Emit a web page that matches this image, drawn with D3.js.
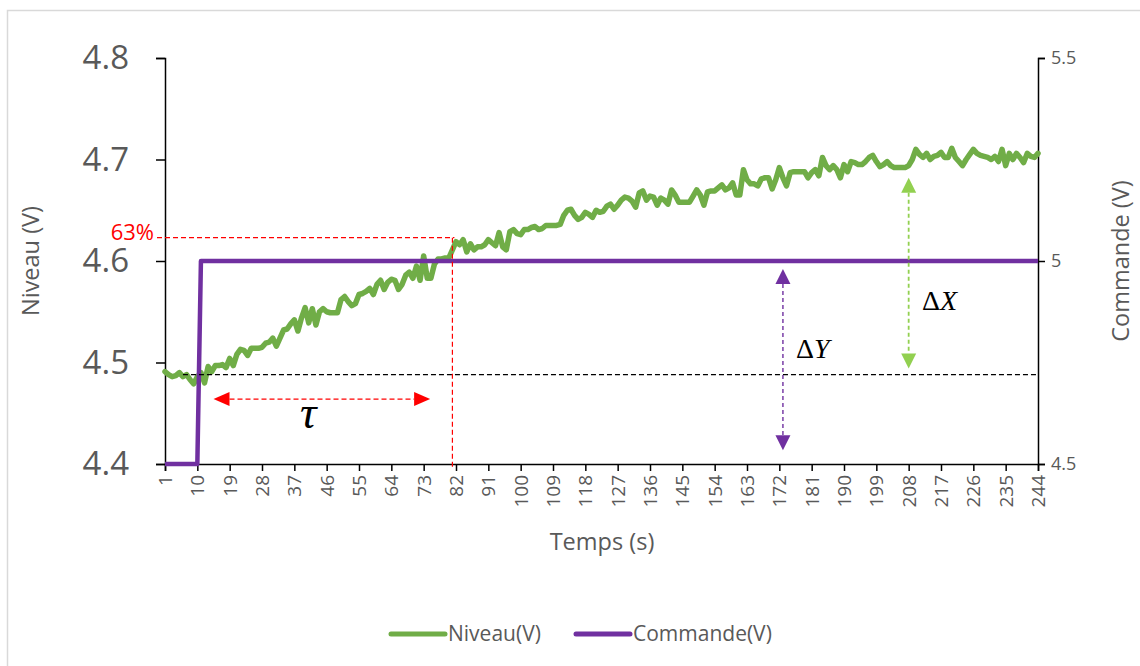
<!DOCTYPE html>
<html>
<head>
<meta charset="utf-8">
<script src="https://cdn.jsdelivr.net/npm/d3@7"></script>
<style>
  html, body { margin: 0; padding: 0; background: #fff; }
  svg { display: block; }
  text { font-family: "Open Sans", "Noto Sans", sans-serif; fill: #595959; }
</style>
</head>
<body>
<svg id="chart" width="1140" height="666"></svg>
<script>
// Time index (s)
const temps = d3.range(1, 245);

// Measured level (V), one value per second
const niveau = [
  4.491, 4.488, 4.486, 4.487, 4.490, 4.486, 4.488, 4.483, 4.479, 4.486,
  4.490, 4.480, 4.496, 4.491, 4.497, 4.497, 4.498, 4.495, 4.504, 4.497,
  4.508, 4.513, 4.512, 4.507, 4.514, 4.514, 4.514, 4.515, 4.519, 4.520,
  4.524, 4.516, 4.524, 4.532, 4.533, 4.538, 4.542, 4.531, 4.544, 4.554,
  4.539, 4.553, 4.537, 4.550, 4.553, 4.550, 4.549, 4.549, 4.549, 4.562,
  4.565, 4.560, 4.556, 4.558, 4.567, 4.568, 4.570, 4.573, 4.567, 4.577,
  4.581, 4.572, 4.579, 4.582, 4.581, 4.572, 4.577, 4.586, 4.589, 4.583,
  4.595, 4.581, 4.605, 4.583, 4.583, 4.597, 4.602, 4.602, 4.603, 4.603,
  4.611, 4.619, 4.616, 4.621, 4.609, 4.617, 4.611, 4.614, 4.614, 4.616,
  4.621, 4.618, 4.615, 4.628, 4.614, 4.611, 4.629, 4.631, 4.627, 4.626,
  4.631, 4.631, 4.633, 4.634, 4.631, 4.632, 4.635, 4.635, 4.635, 4.635,
  4.636, 4.645, 4.650, 4.651, 4.645, 4.641, 4.643, 4.648, 4.646, 4.643,
  4.650, 4.648, 4.649, 4.654, 4.656, 4.651, 4.655, 4.660, 4.663, 4.662,
  4.659, 4.653, 4.667, 4.669, 4.660, 4.664, 4.663, 4.655, 4.662, 4.660,
  4.656, 4.670, 4.665, 4.658, 4.658, 4.658, 4.658, 4.664, 4.670, 4.665,
  4.655, 4.668, 4.669, 4.669, 4.672, 4.675, 4.670, 4.672, 4.677, 4.665,
  4.665, 4.690, 4.680, 4.676, 4.676, 4.674, 4.681, 4.682, 4.682, 4.671,
  4.680, 4.692, 4.682, 4.674, 4.687, 4.688, 4.688, 4.688, 4.688, 4.682,
  4.687, 4.690, 4.684, 4.702, 4.694, 4.690, 4.694, 4.690, 4.682, 4.695,
  4.688, 4.698, 4.697, 4.695, 4.695, 4.698, 4.702, 4.704, 4.698, 4.693,
  4.695, 4.698, 4.694, 4.692, 4.692, 4.692, 4.692, 4.694, 4.700, 4.710,
  4.705, 4.702, 4.706, 4.700, 4.703, 4.704, 4.707, 4.702, 4.702, 4.711,
  4.702, 4.698, 4.694, 4.700, 4.705, 4.710, 4.706, 4.704, 4.703, 4.702,
  4.700, 4.703, 4.698, 4.710, 4.694, 4.706, 4.700, 4.706, 4.702, 4.697,
  4.706, 4.703, 4.702, 4.706
];

// Command step (V): 4.5 V then 5 V from t = 11 s
const commande = temps.map(t => (t <= 10 ? 4.5 : 5));

// Axis ticks
const xTicks = d3.range(1, 245, 9);
const yLeftTicks = [4.4, 4.5, 4.6, 4.7, 4.8];
const yRightTicks = [4.5, 5, 5.5];

// Step-response annotations (data units)
const niveauInitial = 4.488;   // level before the step
const niveau63 = 4.623;        // 63 % of the level change
const t63 = 81;                // time at which 63 % is reached
const tauArrow = { from: 14.5, to: 74.8, level: 4.464 };
const deltaYArrow = { t: 173, top: 4.98, bottom: 4.534 };
const deltaXArrow = { t: 208, top: 4.682, bottom: 4.494 };

const svg = d3.select("#chart");
const W = 1140, H = 666;
const plot = { left: 165, right: 1038, top: 58, bottom: 464 };

// frame
svg.append("rect")
  .attr("x", 7.5).attr("y", 10.5)
  .attr("width", W).attr("height", H)
  .attr("fill", "#fff").attr("stroke", "#d9d9d9").attr("stroke-width", 1.5);

const x = d3.scaleLinear().domain([1, 244]).range([plot.left, plot.right]);
const yL = d3.scaleLinear().domain([4.4, 4.8]).range([plot.bottom, plot.top]);
const yR = d3.scaleLinear().domain([4.5, 5.5]).range([plot.bottom, plot.top]);

// Left axis
const gL = svg.append("g").attr("transform", `translate(${plot.left},0)`)
  .call(d3.axisLeft(yL).tickValues(yLeftTicks).tickFormat(d3.format(".1f")).tickSize(9).tickPadding(27));
gL.selectAll("text").style("font-size", "33px").attr("fill", "#595959");

// Right axis
const gR = svg.append("g").attr("transform", `translate(${plot.right},0)`)
  .call(d3.axisRight(yR).tickValues(yRightTicks).tickFormat(d => d3.format("")(d)).tickSize(7).tickPadding(6));
gR.selectAll("text").style("font-size", "18px").attr("fill", "#595959");

// Bottom axis
const gX = svg.append("g").attr("transform", `translate(0,${plot.bottom})`)
  .call(d3.axisBottom(x).tickValues(xTicks).tickFormat(d3.format("d")).tickSize(7).tickPadding(4));
gX.selectAll("text")
  .style("font-size", "19px").attr("fill", "#595959")
  .attr("text-anchor", "end")
  .attr("transform", "rotate(-90)")
  .attr("x", -11).attr("y", 0).attr("dy", "0.35em");

[gL, gR, gX].forEach(g => {
  g.select(".domain").attr("stroke", "#000").attr("stroke-width", 1.5);
  g.selectAll(".tick line").attr("stroke", "#000").attr("stroke-width", 1.5);
});

// Series
const lineNiveau = d3.line().x((d, i) => x(temps[i])).y(d => yL(d));
const lineCommande = d3.line().x((d, i) => x(temps[i])).y(d => yR(d));

svg.append("path").datum(niveau)
  .attr("d", lineNiveau).attr("fill", "none")
  .attr("stroke", "#70ad47").attr("stroke-width", 5.5)
  .attr("stroke-linejoin", "round").attr("stroke-linecap", "round");

svg.append("path").datum(commande)
  .attr("d", lineCommande).attr("fill", "none")
  .attr("stroke", "#7030a0").attr("stroke-width", 4.5)
  .attr("stroke-linejoin", "round");

// Annotations
const ann = svg.append("g");
const dash = "5,3";

// initial level reference
ann.append("line")
  .attr("x1", x(6)).attr("x2", x(243.5))
  .attr("y1", yL(niveauInitial)).attr("y2", yL(niveauInitial))
  .attr("stroke", "#000").attr("stroke-width", 1.2).attr("stroke-dasharray", dash);

// 63 % level and its time
ann.append("line")
  .attr("x1", x(1) - 8).attr("x2", x(t63) + 2)
  .attr("y1", yL(niveau63)).attr("y2", yL(niveau63))
  .attr("stroke", "#ff0000").attr("stroke-width", 1.2).attr("stroke-dasharray", dash);
ann.append("line")
  .attr("x1", x(t63)).attr("x2", x(t63))
  .attr("y1", yL(niveau63)).attr("y2", plot.bottom + 5)
  .attr("stroke", "#ff0000").attr("stroke-width", 1.2).attr("stroke-dasharray", dash);
svg.append("text")
  .attr("x", plot.left - 11).attr("y", yL(niveau63) + 2)
  .attr("text-anchor", "end")
  .style("font-size", "22px").style("fill", "#ff0000")
  .text("63%");

// arrow helpers
function hArrow(x1, x2, y, color) {
  const L = 16, hw = 7;
  ann.append("line").attr("x1", x1 + L).attr("x2", x2 - L).attr("y1", y).attr("y2", y)
    .attr("stroke", color).attr("stroke-width", 1.3).attr("stroke-dasharray", dash);
  ann.append("path").attr("d", `M${x1},${y}L${x1 + L},${y - hw}L${x1 + L},${y + hw}Z`).attr("fill", color);
  ann.append("path").attr("d", `M${x2},${y}L${x2 - L},${y - hw}L${x2 - L},${y + hw}Z`).attr("fill", color);
}
function vArrow(xp, yTop, yBot, color, width) {
  const L = 15, hw = 7.5;
  ann.append("line").attr("x1", xp).attr("x2", xp)
    .attr("y1", yTop + L).attr("y2", yBot - L)
    .attr("stroke", color).attr("stroke-width", width).attr("stroke-dasharray", "4,3");
  ann.append("path").attr("d", `M${xp},${yTop}L${xp - hw},${yTop + L}L${xp + hw},${yTop + L}Z`).attr("fill", color);
  ann.append("path").attr("d", `M${xp},${yBot}L${xp - hw},${yBot - L}L${xp + hw},${yBot - L}Z`).attr("fill", color);
}

hArrow(x(tauArrow.from), x(tauArrow.to), yL(tauArrow.level), "#ff0000");
vArrow(x(deltaYArrow.t), yR(deltaYArrow.top), yR(deltaYArrow.bottom), "#7030a0", 1.4);
vArrow(x(deltaXArrow.t), yL(deltaXArrow.top), yL(deltaXArrow.bottom), "#92d050", 1.8);

// symbols
svg.append("text")
  .attr("x", 300).attr("y", 428)
  .style("font-family", "'Liberation Serif', 'DejaVu Serif', serif")
  .style("font-style", "italic").style("font-size", "46px").style("fill", "#000")
  .text("τ");

function delta(xp, yp, letter) {
  const t = svg.append("text").attr("x", xp).attr("y", yp)
    .style("font-family", "'Liberation Serif', 'DejaVu Serif', serif")
    .style("font-size", "28px").style("fill", "#000");
  t.append("tspan").text("Δ");
  t.append("tspan").style("font-style", "italic").text(letter);
}
delta(796, 358, "Y");
delta(922, 310, "X");

// Axis titles
svg.append("text")
  .attr("transform", `translate(${31},${261}) rotate(-90)`)
  .attr("text-anchor", "middle").attr("dy", "0.35em")
  .style("font-size", "23.5px").text("Niveau (V)");
svg.append("text")
  .attr("transform", `translate(${1121},${261}) rotate(-90)`)
  .attr("text-anchor", "middle").attr("dy", "0.35em")
  .style("font-size", "23.5px").text("Commande (V)");
svg.append("text")
  .attr("x", 602).attr("y", 550)
  .attr("text-anchor", "middle")
  .style("font-size", "23.5px").text("Temps (s)");

// Legend
const legend = [
  { name: "Niveau(V)", color: "#70ad47", x: 391 },
  { name: "Commande(V)", color: "#7030a0", x: 576 }
];
const lg = svg.append("g").attr("transform", "translate(0,634)");
legend.forEach(d => {
  lg.append("line").attr("x1", d.x).attr("x2", d.x + 54).attr("y1", 0).attr("y2", 0)
    .attr("stroke", d.color).attr("stroke-width", 5).attr("stroke-linecap", "round");
  lg.append("text").attr("x", d.x + 57).attr("y", 0).attr("dy", "0.35em")
    .style("font-size", "21px").text(d.name);
});
</script>
</body>
</html>
